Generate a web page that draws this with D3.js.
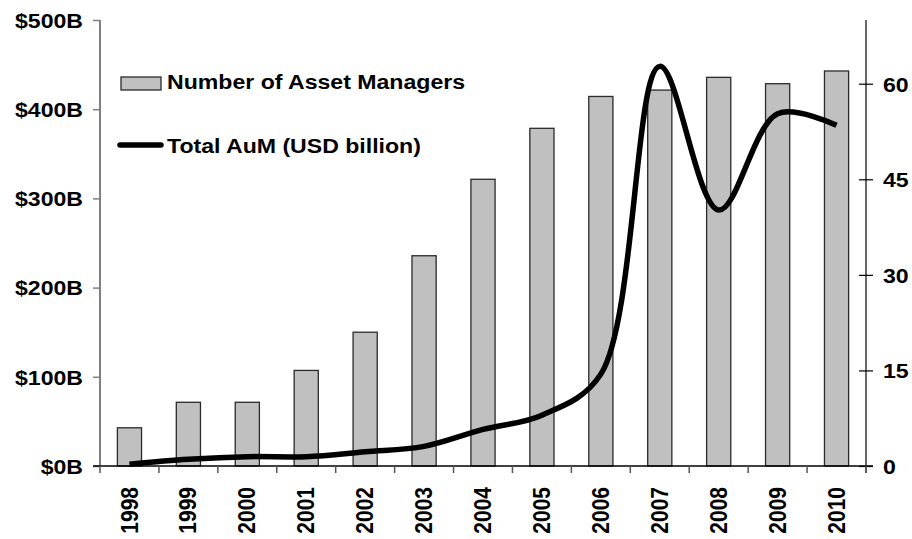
<!DOCTYPE html>
<html>
<head>
<meta charset="utf-8">
<script src="https://cdn.jsdelivr.net/npm/d3@7"></script>
<style>
  html, body { margin: 0; padding: 0; background: #fff; }
  svg text { font-family: Arial, "Liberation Sans", Helvetica, sans-serif; font-weight: bold; fill: #000; }
</style>
</head>
<body>
<svg id="chart" width="912" height="539"></svg>
<script>
// Years on the category axis
const years = ["1998", "1999", "2000", "2001", "2002", "2003", "2004",
               "2005", "2006", "2007", "2008", "2009", "2010"];
// Number of asset managers (bars, right axis)
const managers = [6, 10, 10, 15, 21, 33, 45, 53, 58, 59, 61, 60, 62];
// Total assets under management, USD billion (line, left axis)
const aum = [2, 7.5, 10.5, 10.5, 16, 22, 41, 57, 103, 448, 287, 395, 382];
// Axis tick values
const leftTicks = [0, 100, 200, 300, 400, 500];
const rightTicks = [0, 15, 30, 45, 60];
// Legend entries
const legendLabels = ["Number of Asset Managers", "Total AuM (USD billion)"];

const svg = d3.select("#chart");
const plot = { left: 100, right: 866, top: 20, bottom: 466 };
const fontSize = 21, stretch = 1.1;

const x = d3.scaleBand().domain(years).range([plot.left, plot.right]).paddingInner(0.59).paddingOuter(0.295);
const band = d3.scaleBand().domain(years).range([plot.left, plot.right]);
const yLeft = d3.scaleLinear().domain([0, 500]).range([plot.bottom, plot.top]);
const yRight = d3.scaleLinear().domain([0, 70]).range([plot.bottom, plot.top]);

// Bars
svg.append("g").selectAll("rect").data(years).join("rect")
  .attr("x", d => x(d))
  .attr("width", x.bandwidth())
  .attr("y", (d, i) => yRight(managers[i]))
  .attr("height", (d, i) => yRight(0) - yRight(managers[i]))
  .attr("fill", "#c0c0c0")
  .attr("stroke", "#2a2a2a")
  .attr("stroke-width", 1.3);

// Left axis
const gL = svg.append("g").attr("transform", `translate(${plot.left},0)`)
  .call(d3.axisLeft(yLeft).tickValues(leftTicks).tickSize(7).tickFormat(""));
gL.select(".domain").attr("stroke", "#808080").attr("stroke-width", 2)
  .attr("d", `M0,${plot.top}V${plot.bottom}`);
gL.selectAll(".tick line").attr("stroke", "#808080").attr("stroke-width", 1.5);
gL.selectAll(".tick").append("text")
  .attr("transform", `translate(-17,0) scale(${stretch},1)`)
  .attr("text-anchor", "end").attr("dy", "0.35em")
  .style("font-size", fontSize + "px")
  .text(d => "$" + d + "B");

// Right axis with crossing ticks
const gR = svg.append("g").attr("transform", `translate(${plot.right},0)`)
  .call(d3.axisRight(yRight).tickValues(rightTicks).tickSize(7).tickFormat(""));
gR.select(".domain").attr("stroke", "#000").attr("stroke-width", 1.2)
  .attr("d", `M0,${plot.top}V${plot.bottom + 7}`);
gR.selectAll(".tick line").attr("x1", -7).attr("x2", 7).attr("stroke", "#000").attr("stroke-width", 1.2);
gR.selectAll(".tick").append("text")
  .attr("transform", `translate(17,0) scale(${stretch},1)`)
  .attr("text-anchor", "start").attr("dy", "0.35em")
  .style("font-size", fontSize + "px")
  .text(d => d);

// Category axis: base line, boundary ticks, rotated year labels
const gX = svg.append("g");
gX.append("line").attr("x1", plot.left - 7).attr("x2", plot.right + 7)
  .attr("y1", plot.bottom).attr("y2", plot.bottom)
  .attr("stroke", "#000").attr("stroke-width", 1.5);
const bounds = years.map(d => band(d)).concat([plot.right]);
gX.selectAll("line.tk").data(bounds).join("line").attr("class", "tk")
  .attr("x1", d => d).attr("x2", d => d)
  .attr("y1", plot.bottom).attr("y2", plot.bottom + 7)
  .attr("stroke", "#555").attr("stroke-width", 1.5);
gX.selectAll("text").data(years).join("text")
  .attr("transform", d => `translate(${band(d) + band.bandwidth() / 2},${plot.bottom + 21}) rotate(-90) scale(1,${stretch})`)
  .attr("text-anchor", "end").attr("dy", "0.35em")
  .style("font-size", fontSize + "px")
  .text(d => d);

// AuM line
const line = d3.line()
  .x((d, i) => band(years[i]) + band.bandwidth() / 2)
  .y(d => yLeft(d))
  .curve(d3.curveCatmullRom.alpha(0.5));
svg.append("path").datum(aum)
  .attr("d", line)
  .attr("fill", "none")
  .attr("stroke", "#000")
  .attr("stroke-width", 5.5)
  .attr("stroke-linejoin", "round");

// Legend
const lg = svg.append("g");
lg.append("rect").attr("x", 121).attr("y", 77).attr("width", 40).attr("height", 13)
  .attr("fill", "#c0c0c0").attr("stroke", "#2a2a2a").attr("stroke-width", 1.3);
lg.append("line").attr("x1", 120).attr("x2", 161).attr("y1", 145).attr("y2", 145)
  .attr("stroke", "#000").attr("stroke-width", 5.5).attr("stroke-linecap", "round");
lg.selectAll("text").data(legendLabels).join("text")
  .attr("transform", (d, i) => `translate(167,${i === 0 ? 88.5 : 153}) scale(${stretch},1)`)
  .style("font-size", fontSize + "px")
  .text(d => d);
</script>
</body>
</html>
